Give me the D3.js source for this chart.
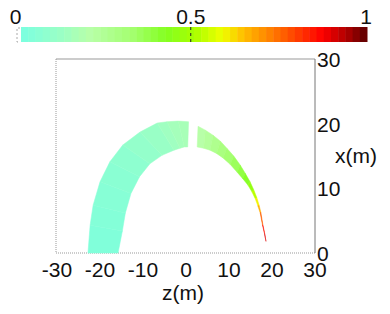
<!DOCTYPE html>
<html>
<head>
<meta charset="utf-8">
<script src="https://cdn.jsdelivr.net/npm/d3@7"></script>
<style>
  body { margin: 0; background: #fff; }
  svg text { font-family: "Liberation Sans", Arial, sans-serif; fill: #111; }
</style>
</head>
<body>
<svg id="chart" width="390" height="314"></svg>
<script>
// colour map stops (value -> colour)
var cmapStops = [0, 0.12, 0.2, 0.32, 0.42, 0.5, 0.58, 0.64, 0.72, 0.8, 0.87, 0.94, 1];
var cmapColors = ['#7affe0', '#9cffc4', '#b8ffa8', '#a4ff70', '#84ff20', '#a8ff00', '#eeff00', '#ffc000', '#ff8000', '#ff3c00', '#ff0000', '#b00000', '#5a0000'];
var barTicks = [0, 0.5, 1];

var zTicks = [-30, -20, -10, 0, 10, 20, 30];
var xTicks = [0, 10, 20, 30];

// arch sampled as rays: outer edge point, inner edge point, colour value
var outerZ = [-22.8, -22.3, -21.6, -20.0, -17.7, -14.7, -10.7, -6.7, -4.4, -1.8, 0.6];
var outerX = [0, 4.3, 7.4, 11.0, 14.1, 16.7, 18.7, 20.1, 20.3, 20.4, 20.3];
var innerZ = [-15.8, -14.8, -14.1, -12.8, -10.8, -8.4, -5.6, -2.8, -1.4, -0.4, 0.4];
var innerX = [0, 3.4, 6.2, 9.2, 11.8, 13.8, 15.1, 15.9, 16.2, 16.4, 16.4];
var vals   = [0.02, 0.03, 0.04, 0.05, 0.06, 0.08, 0.10, 0.12, 0.14, 0.15, 0.16];

var outerZ2 = [2.8, 4.5, 6.3, 8.0, 9.5, 11.1, 12.6, 13.8, 14.9, 15.8, 16.5, 17.0, 17.4, 17.9, 18.3, 18.6];
var outerX2 = [19.6, 19.0, 18.2, 17.3, 16.2, 15.0, 13.6, 12.3, 11.0, 9.7, 8.5, 7.4, 6.3, 4.3, 3.0, 1.8];
var innerZ2 = [2.6, 4.1, 5.6, 7.1, 8.6, 10.3, 11.9, 13.2, 14.4, 15.3, 16.1, 16.7, 17.25, 17.8, 18.25, 18.6];
var innerX2 = [16.4, 16.2, 15.9, 15.4, 14.7, 13.7, 12.5, 11.5, 10.5, 9.5, 8.4, 7.3, 6.2, 4.3, 3.0, 1.8];
var vals2   = [0.19, 0.21, 0.24, 0.27, 0.30, 0.33, 0.36, 0.39, 0.43, 0.48, 0.56, 0.62, 0.70, 0.82, 0.88, 0.92];

var svg = d3.select('#chart');

var color = d3.scaleLinear().domain(cmapStops).range(cmapColors).interpolate(d3.interpolateRgb).clamp(true);

// colour bar
var barX = d3.scaleLinear().domain([0, 1]).range([15.5, 366]);
var barSteps = d3.range(0, 48);
var barFill = d3.scaleLinear().domain([0, barSteps.length]).range([21, 367]);
svg.append('g').selectAll('rect').data(barSteps).enter().append('rect')
  .attr('x', d => barFill(d))
  .attr('y', 27)
  .attr('width', d => barFill(d + 1) - barFill(d) + 0.5)
  .attr('height', 15)
  .attr('fill', d => color((d + 0.5) / barSteps.length));
svg.append('path')
  .attr('d', 'M20,28 H17 V42 H20')
  .attr('fill', 'none').attr('stroke', '#aaa').attr('stroke-dasharray', '2,2');
svg.append('line')
  .attr('x1', barX(0.5)).attr('x2', barX(0.5)).attr('y1', 27).attr('y2', 42)
  .attr('stroke', '#222').attr('stroke-dasharray', '3,3');
svg.append('g').selectAll('text').data(barTicks).enter().append('text')
  .attr('x', d => barX(d)).attr('y', 24)
  .attr('text-anchor', 'middle').attr('font-size', 21)
  .text(d => d);

// plot
var z = d3.scaleLinear().domain([-30, 30]).range([57, 315]);
var x = d3.scaleLinear().domain([0, 30]).range([253, 59]);

svg.append('line').attr('x1', 56).attr('x2', 315).attr('y1', 59).attr('y2', 59).attr('stroke', '#999');
svg.append('line').attr('x1', 56).attr('x2', 56).attr('y1', 59).attr('y2', 253).attr('stroke', '#999').attr('stroke-dasharray', '1,1');
svg.append('line').attr('x1', 56).attr('x2', 315).attr('y1', 253).attr('y2', 253).attr('stroke', '#999').attr('stroke-dasharray', '1,1');
svg.append('line').attr('x1', 315).attr('x2', 315).attr('y1', 59).attr('y2', 253).attr('stroke', '#777');

function drawPiece(oz, ox, iz, ix, v) {
  var quads = d3.range(oz.length - 1).map(i => ({
    pts: [[oz[i], ox[i]], [oz[i + 1], ox[i + 1]], [iz[i + 1], ix[i + 1]], [iz[i], ix[i]]],
    v: (v[i] + v[i + 1]) / 2
  }));
  svg.append('g').selectAll('path').data(quads).enter().append('path')
    .attr('d', d => 'M' + d.pts.map(p => z(p[0]) + ',' + x(p[1])).join('L') + 'Z')
    .attr('fill', d => color(d.v))
    .attr('stroke', d => color(d.v))
    .attr('stroke-width', 0.5);
}
drawPiece(outerZ, outerX, innerZ, innerX, vals);
drawPiece(outerZ2, outerX2, innerZ2, innerX2, vals2);

svg.append('g').selectAll('text').data(zTicks).enter().append('text')
  .attr('x', d => z(d)).attr('y', 277)
  .attr('text-anchor', 'middle').attr('font-size', 21)
  .text(d => d);
svg.append('g').selectAll('text').data(xTicks).enter().append('text')
  .attr('x', 317).attr('y', d => x(d) + 8)
  .attr('font-size', 21)
  .text(d => d);

svg.append('text').attr('x', 183).attr('y', 300).attr('text-anchor', 'middle').attr('font-size', 21).text('z(m)');
svg.append('text').attr('x', 335).attr('y', 163).attr('font-size', 21).text('x(m)');
</script>
</body>
</html>
